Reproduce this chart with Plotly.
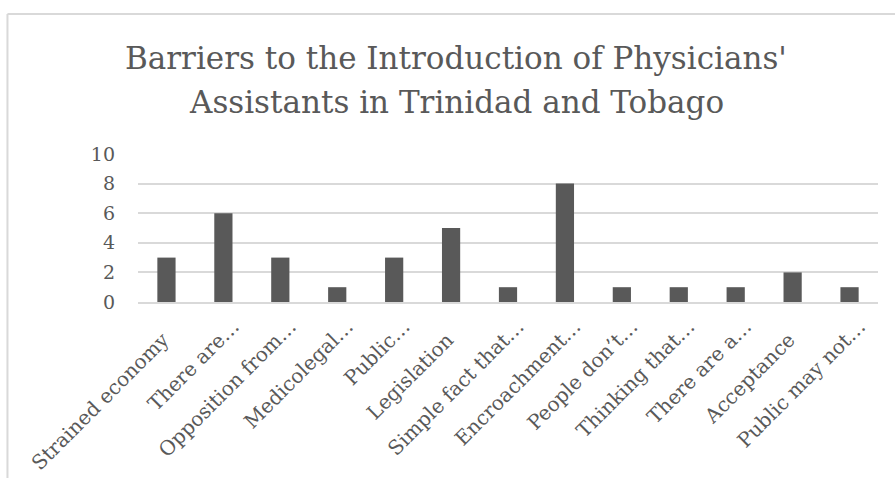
import plotly.graph_objects as go

# rótulos sem reticências ficam um pouco recuados no original -> espaços no fim
recuo = '\u00a0' * 3
categorias = ['Strained economy' + recuo, 'There are…', 'Opposition from…', 'Medicolegal…',
              'Public…', 'Legislation' + recuo, 'Simple fact that…', 'Encroachment…',
              'People don’t…', 'Thinking that…', 'There are a…', 'Acceptance' + recuo,
              'Public may not…']
valores = [3, 6, 3, 1, 3, 5, 1, 8, 1, 1, 1, 2, 1]
yticks = [0, 2, 4, 6, 8, 10]

titulo_linhas = ["Barriers to the Introduction of Physicians'",
                 "Assistants in Trinidad and Tobago"]

cinza = '#595959'
fonte = 'DejaVu Serif'

fig = go.Figure(data=[go.Bar(x=categorias, y=valores, marker_color=cinza,
                             marker_line_width=0)])

fig.update_layout(
    width=895, height=478,
    margin=dict(l=138, r=17, t=154, b=176),
    paper_bgcolor='white', plot_bgcolor='white',
    bargap=0.68,
    showlegend=False,
    font=dict(family=fonte, color=cinza),
)
fig.update_yaxes(range=[0, 10], tickvals=yticks, showgrid=True, gridcolor='#d9d9d9',
                 gridwidth=1.5, zeroline=False, showline=False, automargin=False,
                 tickfont=dict(size=19, color=cinza), ticklabelstandoff=22)
fig.update_xaxes(tickangle=-45, showline=True, linecolor='#d9d9d9', linewidth=1.5,
                 ticks='', tickfont=dict(size=20, color=cinza), automargin=False,
                 ticklabelstandoff=3, ticklabelshift=10)

# título em duas linhas (espaçamento igual ao original)
for linha, ypos in zip(titulo_linhas, [1.6486, 1.3514]):
    fig.add_annotation(text=linha, xref='paper', yref='paper', x=0.4304, y=ypos,
                       xanchor='center', yanchor='middle', showarrow=False,
                       font=dict(family=fonte, size=31, color=cinza))

# moldura do gráfico (borda esquerda e superior)
fig.add_shape(type='line', xref='paper', yref='paper', x0=-0.1764, x1=-0.1764,
              y0=1.946, y1=-1.3, line=dict(color='#d9d9d9', width=2))
fig.add_shape(type='line', xref='paper', yref='paper', x0=-0.1764, x1=1.05,
              y0=1.946, y1=1.946, line=dict(color='#d9d9d9', width=2))

# sem margem no body, para a figura começar no canto da janela
fig.write_html("out.html", config={'displayModeBar': False},
               post_script="document.body.style.margin='0px';")
